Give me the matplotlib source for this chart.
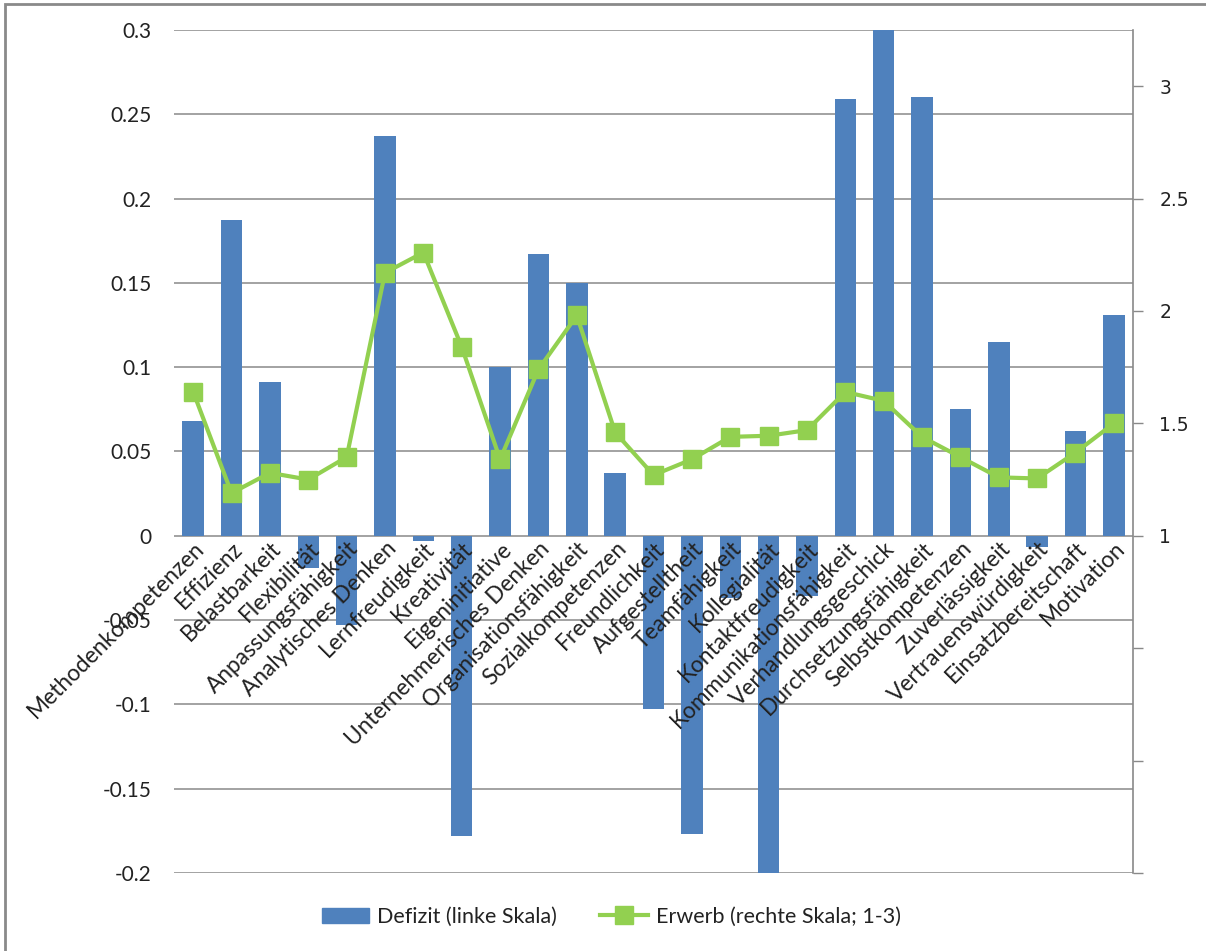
import matplotlib.pyplot as plt
import matplotlib.patches as mpatches
import matplotlib.transforms as mtransforms
from matplotlib.lines import Line2D
import numpy as np

kategorien = [
    'Methodenkompetenzen', 'Effizienz', 'Belastbarkeit', 'Flexibilität',
    'Anpassungsfähigkeit', 'Analytisches Denken', 'Lernfreudigkeit',
    'Kreativität', 'Eigeninitiative', 'Unternehmerisches Denken',
    'Organisationsfähigkeit', 'Sozialkompetenzen', 'Freundlichkeit',
    'Aufgestelltheit', 'Teamfähigkeit', 'Kollegialität', 'Kontaktfreudigkeit',
    'Kommunikationsfähigkeit', 'Verhandlungsgeschick', 'Durchsetzungsfähigkeit',
    'Selbstkompetenzen', 'Zuverlässigkeit', 'Vertrauenswürdigkeit',
    'Einsatzbereitschaft', 'Motivation',
]

defizit = [0.068, 0.187, 0.0915, -0.019, -0.053, 0.237, -0.003, -0.178,
           0.100, 0.167, 0.150, 0.037, -0.103, -0.177, -0.037, -0.21,
           -0.036, 0.259, 0.31, 0.260, 0.075, 0.115, -0.0065, 0.062, 0.131]

erwerb = [1.64, 1.19, 1.28, 1.25, 1.35, 2.17, 2.26, 1.84, 1.34, 1.74,
          1.98, 1.46, 1.27, 1.34, 1.44, 1.445, 1.47, 1.64, 1.60, 1.44,
          1.35, 1.26, 1.255, 1.37, 1.50]

links_ticks = [-0.2, -0.15, -0.1, -0.05, 0, 0.05, 0.1, 0.15, 0.2, 0.25, 0.3]
rechts_ticks = [-0.5, 0, 0.5, 1, 1.5, 2, 2.5, 3]
rechts_labels = ['', '', '', '1', '1.5', '2', '2.5', '3']

blau = '#4F81BD'
gruen = '#92D050'
grau = '#898989'

plt.rcParams['font.family'] = ['Lato', 'DejaVu Sans']

fig = plt.figure(figsize=(12.06, 9.51), dpi=100)
ax = fig.add_axes([0.1443, 0.082, 0.7952, 0.8865])
x = np.arange(len(kategorien))

ax.bar(x, defizit, width=0.56, color=blau, zorder=2)
ax.set_xlim(-0.5, len(kategorien) - 0.5)
ax.set_ylim(-0.2, 0.3)
ax.set_yticks(links_ticks)
ax.set_yticklabels([f'{round(v, 2):g}' if v != 0 else '0' for v in links_ticks])
ax.yaxis.grid(True, color=grau, linewidth=1.1)
ax.set_axisbelow(True)
ax.tick_params(axis='y', length=0, pad=16, labelsize=15, labelcolor='#222222')

# Kategorien an der Nulllinie, über den Balken
ax.spines['bottom'].set_position(('data', 0))
ax.spines['bottom'].set_visible(False)
for s in ['top', 'left', 'right']:
    ax.spines[s].set_visible(False)
ax.set_xticks(x)
ax.set_xticklabels(kategorien, rotation=45, ha='right', va='center',
                   rotation_mode='anchor', fontsize=16.3, color='#222222')
ax.tick_params(axis='x', length=0, pad=7)
ax.xaxis.set_zorder(3)
versatz = mtransforms.ScaledTranslation(8 / 100, 0, fig.dpi_scale_trans)
for lbl in ax.get_xticklabels():
    lbl.set_transform(lbl.get_transform() + versatz)

ax2 = ax.twinx()
ax2.plot(x, erwerb, color=gruen, linewidth=3, marker='s', markersize=13.5,
         markerfacecolor=gruen, markeredgecolor=gruen, zorder=3)
ax2.set_ylim(-0.5, 3.25)
ax2.set_yticks(rechts_ticks)
ax2.set_yticklabels(rechts_labels, family='DejaVu Sans')
ax2.tick_params(axis='y', length=7, width=1, color=grau, pad=12, labelsize=13.5,
                labelcolor='#222222')
for s in ['top', 'left', 'bottom']:
    ax2.spines[s].set_visible(False)
ax2.spines['right'].set_color(grau)
ax2.spines['right'].set_linewidth(1.2)

handles = [
    mpatches.Patch(color=blau, label='Defizit (linke Skala)'),
    Line2D([], [], color=gruen, linewidth=3, marker='s', markersize=13.5,
           label='Erwerb (rechte Skala; 1-3)'),
]
fig.legend(handles=handles, loc='center', bbox_to_anchor=(0.507, 0.036),
           ncol=2, frameon=False, fontsize=15.5, handlelength=2.2,
           handletextpad=0.4, columnspacing=2.0, labelcolor='#222222')

# Rahmen um das Diagramm
rahmen = mpatches.Rectangle((0.0042, -0.05), 1.2, 0.05 + 0.9955,
                            transform=fig.transFigure, fill=False,
                            edgecolor='#8a8a8a', linewidth=2, clip_on=False)
fig.patches.append(rahmen)

fig.savefig('out.png', dpi=100)
